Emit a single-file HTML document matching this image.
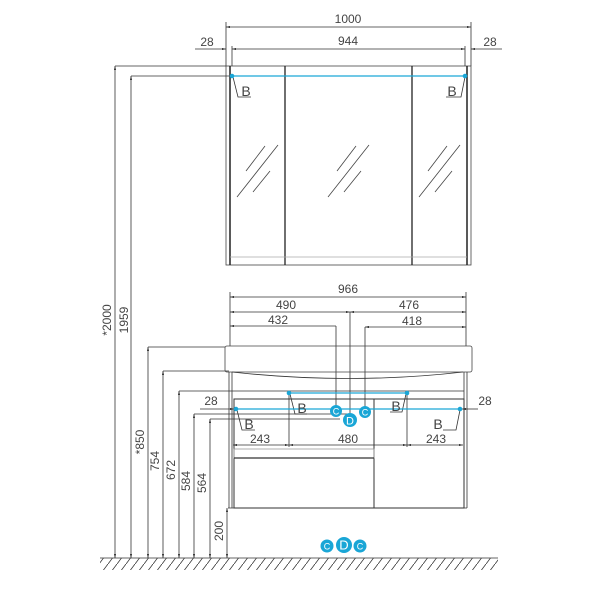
<!DOCTYPE html>
<html><head><meta charset="utf-8"><style>
html,body{margin:0;padding:0;background:#fff;width:600px;height:600px;overflow:hidden}
text{font-family:"Liberation Sans",sans-serif;font-size:12px;fill:#444}
</style></head><body>
<svg width="600" height="600" viewBox="0 0 600 600" xmlns="http://www.w3.org/2000/svg">
<defs>
<marker id="a" viewBox="0 0 10 10" refX="10" refY="5" markerWidth="5" markerHeight="5" orient="auto-start-reverse"><path d="M0,2.5 L10,5 L0,7.5z" fill="#222"/></marker>
<pattern id="h" width="9" height="12" patternUnits="userSpaceOnUse"><line x1="0" y1="12" x2="9" y2="0" stroke="#333" stroke-width="0.8"/></pattern>
</defs>
<g stroke="#333" stroke-width="0.8" fill="none">
<line x1="226" y1="22" x2="226" y2="66"/><line x1="471" y1="22" x2="471" y2="66"/>
<line x1="226" y1="27" x2="471" y2="27" marker-start="url(#a)" marker-end="url(#a)"/>
<line x1="232" y1="46" x2="232" y2="66"/><line x1="465" y1="46" x2="465" y2="66"/>
<line x1="232" y1="49" x2="465" y2="49" marker-start="url(#a)" marker-end="url(#a)"/>
<line x1="195" y1="49" x2="226" y2="49" marker-end="url(#a)"/>
<line x1="502" y1="49" x2="471" y2="49" marker-end="url(#a)"/>
<rect x="226" y="66" width="245" height="199" stroke="#444"/>
<line x1="230" y1="66" x2="230" y2="265" stroke-width="1.5" stroke="#222"/>
<line x1="285" y1="66" x2="285" y2="265" stroke-width="1.3" stroke="#222"/>
<line x1="412" y1="66" x2="412" y2="265" stroke-width="1.3" stroke="#222"/>
<line x1="467" y1="66" x2="467" y2="265" stroke-width="1.5" stroke="#222"/>
<line x1="230" y1="257" x2="467" y2="257" stroke="#aaa"/>
<line x1="115" y1="66" x2="226" y2="66"/>
<line x1="131" y1="76" x2="232" y2="76"/>
<g stroke="#444">
<line x1="246" y1="171" x2="265" y2="146"/><line x1="237" y1="197" x2="278" y2="145"/><line x1="253" y1="192" x2="270" y2="171"/>
<line x1="337" y1="171" x2="356" y2="146"/><line x1="328" y1="197" x2="369" y2="145"/><line x1="344" y1="192" x2="361" y2="171"/>
<line x1="428" y1="171" x2="447" y2="146"/><line x1="419" y1="197" x2="460" y2="145"/><line x1="435" y1="192" x2="452" y2="171"/>
</g>
<polyline points="233,77 238,97 251,97"/><polyline points="465,77 461,97 446,97"/>
<line x1="230" y1="292" x2="230" y2="346"/><line x1="466" y1="292" x2="466" y2="346"/>
<line x1="230" y1="297" x2="466" y2="297" marker-start="url(#a)" marker-end="url(#a)"/>
<line x1="230" y1="312" x2="350" y2="312" marker-start="url(#a)" marker-end="url(#a)"/>
<line x1="350" y1="312" x2="466" y2="312" marker-start="url(#a)" marker-end="url(#a)"/>
<line x1="350" y1="312" x2="350" y2="418"/>
<line x1="230" y1="326" x2="336" y2="326" marker-start="url(#a)"/>
<line x1="336" y1="326" x2="336" y2="410"/>
<line x1="365" y1="327" x2="466" y2="327" marker-start="url(#a)" marker-end="url(#a)"/>
<line x1="365" y1="327" x2="365" y2="410"/>
<rect x="225" y="346" width="247" height="26" rx="2" stroke="#444"/>
<path d="M232,372 Q350,385 463,372"/>
<line x1="229" y1="372" x2="229" y2="508"/><line x1="232" y1="372" x2="232" y2="508"/>
<line x1="467" y1="372" x2="467" y2="508"/><line x1="464" y1="372" x2="464" y2="508"/>
<line x1="179" y1="391" x2="464" y2="391"/>
<rect x="234" y="399" width="230" height="109" stroke="#333" stroke-width="1"/>
<line x1="374" y1="399" x2="374" y2="508" stroke-width="1"/>
<rect x="234" y="449" width="140" height="9" stroke="#999"/>
<line x1="234" y1="458" x2="374" y2="458" stroke-width="1.2"/>
<line x1="194" y1="414" x2="350" y2="414"/>
<line x1="210" y1="419" x2="340" y2="419"/>
<line x1="148" y1="347" x2="225" y2="347"/>
<line x1="163" y1="371" x2="229" y2="371"/>
<line x1="228" y1="508" x2="467" y2="508"/>
<line x1="200" y1="409" x2="234" y2="409" marker-end="url(#a)"/>
<line x1="478" y1="409" x2="462" y2="409" marker-end="url(#a)"/>
<line x1="289" y1="393" x2="289" y2="447"/><line x1="407" y1="393" x2="407" y2="447"/>
<line x1="233" y1="445" x2="289" y2="445" marker-start="url(#a)" marker-end="url(#a)"/>
<line x1="289" y1="445" x2="407" y2="445" marker-start="url(#a)" marker-end="url(#a)"/>
<line x1="407" y1="445" x2="463" y2="445" marker-start="url(#a)" marker-end="url(#a)"/>
<polyline points="290,394 295,414 307,414"/><polyline points="406,394 402,412 390,412"/>
<polyline points="237,410 242,430 255,430"/><polyline points="460,410 456,430 443,430"/>
<line x1="115" y1="66" x2="115" y2="558" marker-start="url(#a)" marker-end="url(#a)"/>
<line x1="131" y1="76" x2="131" y2="558" marker-start="url(#a)" marker-end="url(#a)"/>
<line x1="148" y1="347" x2="148" y2="558" marker-start="url(#a)" marker-end="url(#a)"/>
<line x1="163" y1="371" x2="163" y2="558" marker-start="url(#a)" marker-end="url(#a)"/>
<line x1="179" y1="391" x2="179" y2="558" marker-start="url(#a)" marker-end="url(#a)"/>
<line x1="194" y1="414" x2="194" y2="558" marker-start="url(#a)" marker-end="url(#a)"/>
<line x1="210" y1="419" x2="210" y2="558" marker-start="url(#a)" marker-end="url(#a)"/>
<line x1="227" y1="508" x2="227" y2="558" marker-start="url(#a)" marker-end="url(#a)"/>
<line x1="100" y1="558" x2="498" y2="558"/>
</g>
<rect x="100" y="558" width="398" height="12" fill="url(#h)"/>
<g stroke="#1aa6d6" stroke-width="1.3">
<line x1="232" y1="76" x2="465" y2="76"/>
<line x1="289" y1="393" x2="407" y2="393"/>
<line x1="236" y1="409" x2="460" y2="409"/>
</g>
<g fill="#1aa6d6">
<circle cx="232" cy="76" r="2.3"/><circle cx="465" cy="76" r="2.3"/>
<circle cx="289" cy="393" r="2.3"/><circle cx="407" cy="393" r="2.3"/>
<circle cx="236" cy="409" r="2.3"/><circle cx="460" cy="409" r="2.3"/>
<circle cx="336" cy="411" r="6"/><circle cx="365" cy="412" r="6"/><circle cx="350" cy="420" r="7"/>
<circle cx="327" cy="546" r="6.5"/><circle cx="344" cy="545" r="8"/><circle cx="360" cy="546" r="6.5"/>
</g>
<g style="fill:#fff;font-size:9px" text-anchor="middle">
<text x="336" y="414.5" style="fill:#fff;font-size:9px">C</text><text x="365" y="415.5" style="fill:#fff;font-size:9px">C</text><text x="350" y="424.5" style="fill:#fff;font-size:11px">D</text>
<text x="327" y="549.5" style="fill:#fff;font-size:9px">C</text><text x="344" y="549.5" style="fill:#fff;font-size:13px">D</text><text x="360" y="549.5" style="fill:#fff;font-size:9px">C</text>
</g>
<g text-anchor="middle">
<text x="348" y="23">1000</text><text x="348" y="45">944</text>
<text x="207" y="46">28</text><text x="490" y="46">28</text>
<text x="246" y="96" style="font-size:14px">B</text><text x="452" y="96" style="font-size:14px">B</text>
<text x="348" y="293">966</text><text x="286" y="309">490</text><text x="409" y="309">476</text>
<text x="278" y="324">432</text><text x="412" y="325">418</text>
<text x="302" y="413" style="font-size:14px">B</text><text x="396" y="411" style="font-size:14px">B</text>
<text x="249" y="429" style="font-size:14px">B</text><text x="438" y="429" style="font-size:14px">B</text>
<text x="211" y="405">28</text><text x="485" y="405">28</text>
<text x="260" y="443">243</text><text x="348" y="443">480</text><text x="436" y="443">243</text>
</g>
<g text-anchor="middle">
<text transform="translate(111,320) rotate(-90)">*2000</text>
<text transform="translate(128,320) rotate(-90)">1959</text>
<text transform="translate(144,442) rotate(-90)">*850</text>
<text transform="translate(159,461) rotate(-90)">754</text>
<text transform="translate(175,470) rotate(-90)">672</text>
<text transform="translate(190,481) rotate(-90)">584</text>
<text transform="translate(206,483) rotate(-90)">564</text>
<text transform="translate(223,531) rotate(-90)">200</text>
</g>
</svg>
</body></html>
